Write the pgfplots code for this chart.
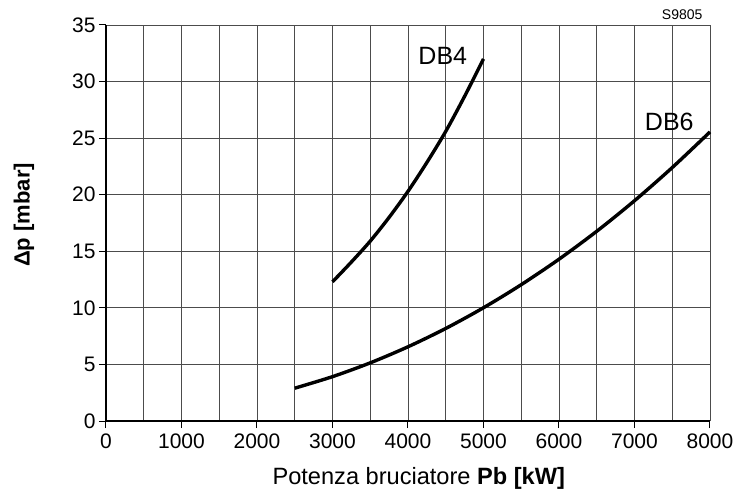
\documentclass[border=0pt]{standalone}
\usepackage{pgfplots}
\pgfplotsset{compat=1.18}
\usepackage{fontspec}
\setmainfont{Liberation Sans}
\begin{document}
\begin{tikzpicture}
\begin{axis}[
  name=ax,
  at={(0pt,0pt)}, anchor=south west,
  scale only axis, width=604pt, height=396pt,
  xmin=0, xmax=8000, ymin=0, ymax=35,
  xtick={0,1000,...,8000}, minor xtick={500,1500,...,7500},
  ytick={0,5,...,35},
  grid=both,
  major grid style={black!70, line width=0.9pt},
  minor grid style={black!70, line width=0.9pt},
  axis x line*=bottom, axis y line*=left,
  axis line style={line width=2.6pt, -},
  tick style={black, line width=1pt},
  tick align=outside,
  major tick length=7pt, minor tick length=0pt,
  ticklabel style={font=\fontsize{21}{25}\selectfont},
  xticklabel style={yshift=-2pt},
  /pgf/number format/assume math mode=true,
  /pgf/number format/set thousands separator={},
  scaled x ticks=false,
  clip=false,
]
\addplot[line width=3.4pt, smooth] coordinates {
 (3000,12.3) (3250,14.05) (3500,15.9) (3750,18.0) (4000,20.3) (4250,22.85)
 (4500,25.6) (4750,28.7) (5000,32.0)};
\addplot[line width=3.4pt, smooth] coordinates {
 (2500,2.9) (3000,3.92) (3500,5.14) (4000,6.56) (4500,8.18) (5000,10.01)
 (5500,12.05) (6000,14.3) (6500,16.77) (7000,19.47) (7500,22.4) (8000,25.55)};
\node[font=\fontsize{25}{30}\selectfont] at (axis cs:4461,32.3) {DB4};
\node[font=\fontsize{25}{30}\selectfont] at (axis cs:7461,26.4) {DB6};
\end{axis}
\node[anchor=base west, font=\fontsize{23.6}{28}\selectfont] at (163pt,-64pt) {Potenza bruciatore \textbf{Pb [kW]}};
\node[rotate=90, font=\fontsize{22}{26}\selectfont\bfseries] at (-82pt,206pt) {Δp [mbar]};
\node[anchor=base east, font=\fontsize{14}{16}\selectfont] at (600pt,401pt) {S9805};
\pgfresetboundingbox
\path (-106pt,-69pt) rectangle (647pt,421pt);
\end{tikzpicture}
\end{document}
